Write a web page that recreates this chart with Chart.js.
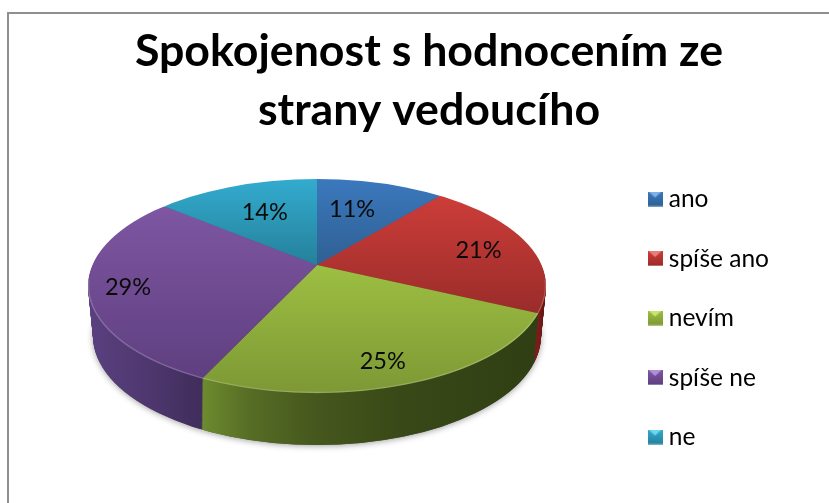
<!DOCTYPE html>
<html><head><meta charset="utf-8">
<style>
html,body{margin:0;padding:0;background:#fff;width:829px;height:503px;overflow:hidden}
#frame{position:absolute;left:7px;top:12px;right:-5px;bottom:-5px;border-left:2px solid #8f8f8f;border-top:2px solid #8f8f8f}
canvas{position:absolute;left:0;top:0}
</style>
<script src="https://cdn.jsdelivr.net/npm/chart.js@4/dist/chart.umd.min.js"></script>
</head><body>
<div id="frame"></div>
<canvas id="c" width="829" height="503"></canvas>
<script>
const categories = ['ano','spíše ano','nevím','spíše ne','ne'];
const percentages = [11,21,25,29,14];
const titleLines = ['Spokojenost s hodnocením ze','strany vedoucího'];
const faceLight = ['#3b78bd','#cc3d39','#9dbf42','#7e56a2','#33abce'];
const faceDark  = ['#2f6093','#9a2c2a','#7d9835','#5f3f80','#25809b'];
const legendLight = ['#7fb0e6','#e87d7a','#cde36f','#b08fd8','#6fd6ee'];
const wallStops = [
  [['#2a5585',0],['#2a5585',1]],
  [['#7a1d1a',0],['#5e1311',1]],
  [['#6d8b2e',0],['#566d25',.14],['#46581d',.33],['#384817',.6],['#303f13',1]],
  [['#5a4080',0],['#4f3870',.5],['#402d5a',1]],
  [['#1f7088',0],['#1f7088',1]]
];
const labelReach = [.68,.76,.79,.83,.665];
const labelNudge = [[-8,0],[2,2],[-7,2],[1,3],[1,0]];
const FONT = 'Lato, "Open Sans", sans-serif';
const view = {ax:317, ay:265, ex:317, ey:286, rx:229, ry:107, depth:50, squash:.465, shrink:5, grow:2};

function rayToEllipse(a){
  const dx=Math.sin(a), dy=-Math.cos(a)*view.squash;
  const A=(dx/view.rx)**2+(dy/view.ry)**2;
  const oy=view.ay-view.ey;
  const B=2*dy*oy/view.ry**2;
  const C=(oy/view.ry)**2-1;
  const t=(-B+Math.sqrt(B*B-4*A*C))/(2*A);
  return {x:view.ax+dx*t, y:view.ay+dy*t};
}

const pie3d = {
  id:'pie3d',
  beforeDatasetsDraw(chart){
    const ctx=chart.ctx, arcs=chart.getDatasetMeta(0).data;
    const a0=arcs[0], k=300/a0.outerRadius, sx=k, sy=k*view.squash;
    const toPieX=x=>a0.x+(x-view.ax)/sx, toPieY=y=>a0.y+(y-view.ay)/sy;
    const withPie=(dy,fn)=>{ctx.save();ctx.translate(view.ax,view.ay+dy);ctx.scale(sx,sy);ctx.translate(-a0.x,-a0.y);fn();ctx.restore();};
    const paint=(arc,fill)=>{const o=arc.options;arc.options=Object.create(o);arc.options.backgroundColor=fill;arc.draw(ctx);arc.options=o;};
    const rimPoints=arc=>{const n=24,out=[];for(let j=0;j<=n;j++){out.push(rayToEllipse(arc.startAngle+Math.PI/2+(arc.endAngle-arc.startAngle)*j/n));}return out;};

    // soft shadow below the disc
    ctx.save();
    ctx.shadowColor='rgba(0,0,0,.38)';ctx.shadowBlur=6;ctx.shadowOffsetY=1;ctx.fillStyle='#555';
    ctx.beginPath();ctx.ellipse(view.ex,view.ey+view.depth,view.rx-view.shrink,view.ry+view.grow,0,0,Math.PI*2);ctx.fill();
    ctx.restore();

    // side wall, horizontal gradient across the visible front part of each slice
    const wallFill=arcs.map((arc,i)=>{
      const pts=rimPoints(arc);
      const front=pts.filter(p=>p.y>view.ey).map(p=>p.x);
      const xs=front.length?front:pts.map(p=>p.x);
      const g=ctx.createLinearGradient(toPieX(Math.min(...xs)),0,toPieX(Math.max(...xs)),0);
      wallStops[i].forEach(s=>g.addColorStop(s[1],s[0]));
      return g;
    });
    for(let dy=view.depth;dy>=1;dy--){
      ctx.save();
      ctx.beginPath();ctx.ellipse(view.ex,view.ey+dy,view.rx-view.shrink*dy/view.depth,view.ry+view.grow*dy/view.depth,0,0,Math.PI*2);ctx.clip();
      withPie(dy,()=>arcs.forEach((arc,i)=>paint(arc,wallFill[i])));
      ctx.restore();
    }

    // top face
    ctx.save();
    ctx.beginPath();ctx.ellipse(view.ex,view.ey,view.rx,view.ry,0,0,Math.PI*2);ctx.clip();
    withPie(0,()=>arcs.forEach((arc,i)=>{
      const ys=[view.ay,...rimPoints(arc).map(p=>p.y)];
      const g=ctx.createLinearGradient(0,toPieY(Math.min(...ys)),0,toPieY(Math.max(...ys)));
      g.addColorStop(0,faceLight[i]);g.addColorStop(1,faceDark[i]);
      paint(arc,g);
    }));
    ctx.restore();

    // light bevel on the front rim
    ctx.save();
    ctx.strokeStyle='rgba(255,255,255,.2)';ctx.lineWidth=1.4;
    ctx.beginPath();ctx.ellipse(view.ex,view.ey-.5,view.rx-.5,view.ry,0,-.05,Math.PI+.05);ctx.stroke();
    ctx.restore();

    // percentage labels
    ctx.save();
    ctx.fillStyle='#0a0a0a';ctx.font='23.5px '+FONT;ctx.textAlign='center';ctx.textBaseline='middle';
    arcs.forEach((arc,i)=>{
      const mid=(arc.startAngle+arc.endAngle)/2+Math.PI/2;
      const p=rayToEllipse(mid),f=labelReach[i];
      ctx.fillText(percentages[i]+'%',view.ax+(p.x-view.ax)*f+labelNudge[i][0],view.ay+(p.y-view.ay)*f+labelNudge[i][1]);
    });
    ctx.restore();
    return false;
  }
};

function legendMark(i){
  const c=document.createElement('canvas');c.width=15;c.height=15;
  const x=c.getContext('2d');
  const g=x.createLinearGradient(0,0,0,15);g.addColorStop(0,faceLight[i]);g.addColorStop(1,faceDark[i]);
  x.fillStyle=g;x.fillRect(0,0,15,15);
  x.fillStyle=legendLight[i];x.beginPath();x.moveTo(1,0);x.lineTo(14,0);x.lineTo(7.5,6);x.closePath();x.fill();
  x.fillStyle='rgba(255,255,255,.35)';x.fillRect(0,14,15,1);
  return c;
}

new Chart(document.getElementById('c'),{
  type:'pie',
  plugins:[pie3d],
  data:{labels:categories,datasets:[{data:percentages,backgroundColor:faceLight,borderWidth:0}]},
  options:{
    responsive:false,animation:false,
    layout:{padding:{left:79,top:23,right:50,bottom:6}},
    plugins:{
      tooltip:{enabled:false},
      title:{display:true,text:titleLines,color:'#000',
        font:{family:FONT,size:44.7,weight:'bold',lineHeight:1.3},padding:{top:0,bottom:0}},
      legend:{position:'right',fullSize:false,
        labels:{color:'#0a0a0a',font:{family:FONT,size:24.5},usePointStyle:true,boxHeight:15,pointStyleWidth:3,padding:35,
          generateLabels:()=>categories.map((t,i)=>({text:t,pointStyle:legendMark(i),fillStyle:faceLight[i],strokeStyle:faceLight[i],lineWidth:0,hidden:false,index:i}))}}
    }
  }
});
</script>
</body></html>
